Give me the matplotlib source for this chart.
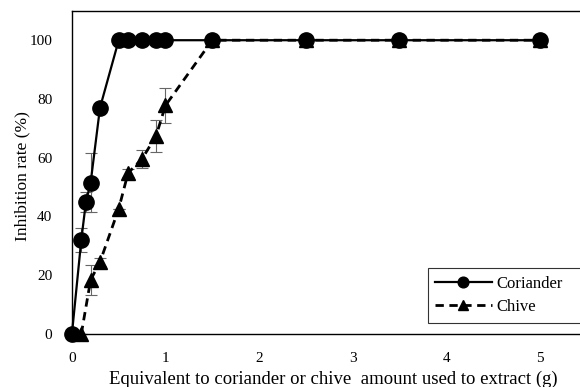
import matplotlib
matplotlib.use("Agg")
import matplotlib.pyplot as plt

cor_x = [0, 0.1, 0.15, 0.2, 0.3, 0.5, 0.6, 0.75, 0.9, 1.0, 1.5, 2.5, 3.5, 5]
cor_y = [0, 32, 45, 51.5, 77, 100, 100, 100, 100, 100, 100, 100, 100, 100]
cor_err = [0, 4, 3.5, 10, 0, 0, 0, 0, 0, 0, 0, 0, 0, 0]

chv_x = [0.1, 0.2, 0.3, 0.5, 0.6, 0.75, 0.9, 1.0, 1.5, 2.5, 3.5, 5]
chv_y = [0, 18.4, 24.5, 42.6, 54.8, 59.6, 67.5, 77.8, 100, 100, 100, 100]
chv_err = [0, 5, 1.5, 0, 1.5, 3, 5.5, 6, 0, 0, 0, 0]

xticks = [0, 1, 2, 3, 4, 5]
yticks = [0, 20, 40, 60, 80, 100]

plt.rcParams['font.family'] = ['Liberation Serif', 'DejaVu Serif']

fig = plt.figure(figsize=(5.8, 3.87), dpi=100)
ax = fig.add_axes([0.124, 0.137, 0.876, 0.835])

ax.errorbar(chv_x, chv_y, yerr=chv_err, fmt='none', ecolor='#666666',
            elinewidth=0.8, capsize=4, capthick=0.8, zorder=2, clip_on=False)
ax.errorbar(cor_x, cor_y, yerr=cor_err, fmt='none', ecolor='#666666',
            elinewidth=0.8, capsize=4, capthick=0.8, zorder=2, clip_on=False)

ax.plot(chv_x, chv_y, color='black', linestyle=(0, (3, 2)), linewidth=2.0,
        marker='^', markersize=10, label='Chive', zorder=3, clip_on=False)
ax.plot(cor_x, cor_y, color='black', linestyle='-', linewidth=1.6,
        marker='o', markersize=11, label='Coriander', zorder=4, clip_on=False)

ax.set_xlim(0, 5.43)
ax.set_ylim(0, 110)
ax.set_xticks(xticks)
ax.set_yticks(yticks)
ax.tick_params(axis='both', length=0, labelsize=11)
ax.tick_params(axis='x', pad=13)
ax.tick_params(axis='y', pad=14)

for s in ['left', 'bottom', 'top']:
    ax.spines[s].set_linewidth(1.0)
    ax.spines[s].set_color('black')
ax.spines['right'].set_visible(False)

ax.set_xlabel('Equivalent to coriander or chive  amount used to extract (g)', fontsize=13.5)
ax.xaxis.set_label_coords(0.514, -0.113)
ax.set_ylabel('Inhibition rate (%)', fontsize=12.5)
ax.yaxis.set_label_coords(-0.082, 0.49)

handles, labels = ax.get_legend_handles_labels()
leg = ax.legend(handles[::-1], labels[::-1], loc='upper left',
                bbox_to_anchor=(0.70, 0.014, 0.36, 0.19), mode='expand',
                fontsize=12, frameon=True, markerscale=0.7,
                fancybox=False, edgecolor='black', handlelength=3.4,
                handletextpad=0.3, borderpad=0.45, labelspacing=0.45,
                borderaxespad=0)
leg.get_frame().set_linewidth(0.8)

fig.savefig('out.png', dpi=100)
